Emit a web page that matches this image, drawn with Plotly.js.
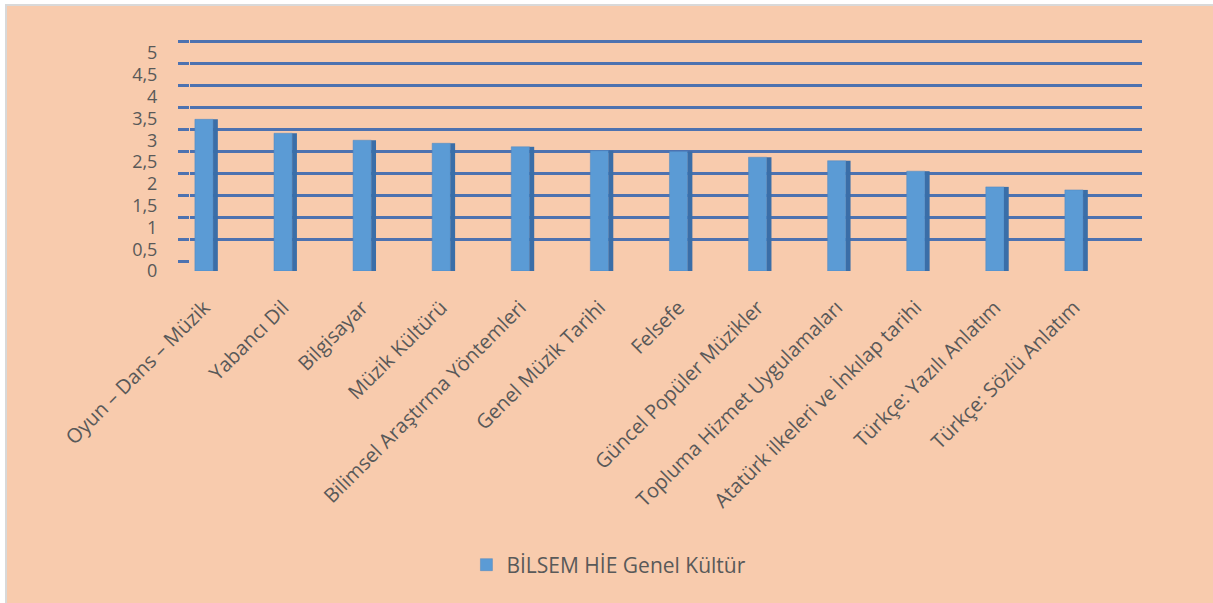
<!DOCTYPE html>
<html>
<head>
<meta charset="utf-8">
<script src="https://cdn.plot.ly/plotly-3.0.1.min.js"></script>
<style>
  html, body { margin: 0; padding: 0; background: #ffffff; width: 1213px; height: 603px; overflow: hidden; }
  #frame { position: absolute; left: 5px; top: 4px; width: 1206px; height: 597px; background: #f8cbad;
           border-left: 2px solid #d9d9d9; border-top: 2px solid #d9d9d9; }
  #chart { position: absolute; left: 0; top: 0; width: 1213px; height: 603px; }
</style>
</head>
<body>
<div id="frame"></div>
<div id="chart"></div>
<script>
const categories = [
  "Oyun – Dans – Müzik",
  "Yabancı Dil",
  "Bilgisayar",
  "Müzik Kültürü",
  "Bilimsel Araştırma Yöntemleri",
  "Genel Müzik Tarihi",
  "Felsefe",
  "Güncel Popüler Müzikler",
  "Topluma Hizmet Uygulamaları",
  "Atatürk ilkeleri ve İnkılap tarihi",
  "Türkçe: Yazılı Anlatım",
  "Türkçe: Sözlü Anlatım"
];
const values = [3.48, 3.16, 3.00, 2.93, 2.85, 2.76, 2.74, 2.61, 2.53, 2.29, 1.93, 1.86];
const seriesName = "BİLSEM HİE Genel Kültür";
const yTickVals = [0, 0.5, 1, 1.5, 2, 2.5, 3, 3.5, 4, 4.5, 5];
const yTickText = ["0", "0,5", "1", "1,5", "2", "2,5", "3", "3,5", "4", "4,5", "5"];

const FONT = "Open Sans, Noto Sans, sans-serif";
const TXT = "#595959";

const traces = [
  { // back-wall subplot (grid only, no marks)
    type: "scatter", mode: "none", x: categories, y: values,
    xaxis: "x", yaxis: "y", showlegend: false, hoverinfo: "skip"
  },
  { // front face
    type: "bar", name: seriesName, x: categories, y: values,
    xaxis: "x", yaxis: "y2", width: 0.23, offset: -0.115,
    marker: { color: "#5b9bd5", line: { color: "#4f86c0", width: 0.5 } }
  },
  { // side face (3D look)
    type: "bar", name: seriesName + " side", x: categories, y: values,
    xaxis: "x", yaxis: "y2", width: 0.06, offset: 0.115, showlegend: false, hoverinfo: "skip",
    marker: { color: "#3a6ea8", line: { width: 0 } }
  }
];

const layout = {
  width: 1213, height: 603,
  paper_bgcolor: "rgba(0,0,0,0)", plot_bgcolor: "rgba(0,0,0,0)",
  margin: { l: 190, r: 71, t: 40, b: 332 },
  barmode: "overlay",
  font: { family: FONT, color: TXT, size: 20 },
  xaxis: {
    type: "category", range: [-0.177, 11.86],
    showgrid: false, zeroline: false, showline: false,
    tickangle: -45, ticks: "outside", ticklen: 25, tickcolor: "rgba(0,0,0,0)",
    tickfont: { family: FONT, size: 20, color: TXT }, anchor: "y"
  },
  yaxis: {
    domain: [0.0391, 1], range: [-0.01, 5.04], tickvals: yTickVals, showticklabels: false,
    showgrid: true, gridcolor: "#4d72b0", gridwidth: 3, zeroline: false, showline: false,
    ticks: "outside", ticklen: 11, tickwidth: 3, tickcolor: "#4d72b0", anchor: "x"
  },
  yaxis2: {
    domain: [0, 0.9434], range: [0, 5], tickvals: yTickVals, ticktext: yTickText,
    showgrid: false, zeroline: false, showline: false, anchor: "x",
    ticks: "outside", ticklen: 28, tickcolor: "rgba(0,0,0,0)",
    tickfont: { family: FONT, size: 18, color: TXT }
  },
  showlegend: true,
  legend: {
    orientation: "h", xref: "container", yref: "container",
    x: 0.502, xanchor: "center", y: 0.063, yanchor: "middle",
    font: { family: FONT, size: 21, color: TXT }, bgcolor: "rgba(0,0,0,0)"
  }
};

Plotly.newPlot("chart", traces, layout, { displayModeBar: false, staticPlot: true });
</script>
</body>
</html>
